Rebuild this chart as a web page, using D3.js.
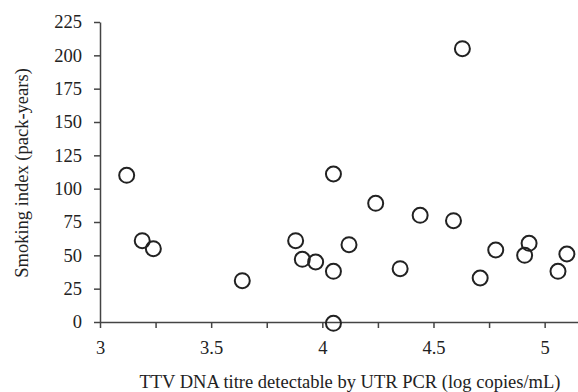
<!DOCTYPE html>
<html>
<head>
<meta charset="utf-8">
<script src="https://cdn.jsdelivr.net/npm/d3@7"></script>
<style>
  html, body { margin: 0; padding: 0; background: #fff; }
  svg text { font-family: "Liberation Serif", "DejaVu Serif", serif; fill: #222; }
</style>
</head>
<body>
<div id="chart"></div>
<script>
// TTV DNA titre (log copies/mL) vs smoking index (pack-years)
const titre = [3.12, 3.19, 3.24, 3.64, 3.88, 3.91, 3.97, 4.05, 4.05, 4.12, 4.24,
               4.35, 4.44, 4.59, 4.71, 4.78, 4.93, 4.91, 5.06, 5.10, 4.05, 4.63];
const smokingIndex = [110, 61, 55, 31, 61, 47, 45, 38, -1, 58, 89,
                      40, 80, 76, 33, 54, 59, 50, 38, 51, 111, 205];
const xTicks = [3, 3.25, 3.5, 3.75, 4, 4.25, 4.5, 4.75, 5];
const yTicks = [0, 25, 50, 75, 100, 125, 150, 175, 200, 225];

const W = 578, H = 392;
const margin = {left: 100, top: 22, bottom: 322};
const fontSize = "18.5px";

const svg = d3.select("#chart").append("svg")
  .attr("width", W)
  .attr("height", H);

const x = d3.scaleLinear().domain([3, 5.15]).range([margin.left, W]);
const y = d3.scaleLinear().domain([0, 225]).range([margin.bottom, margin.top]);

// x axis
const gx = svg.append("g")
  .attr("transform", "translate(0," + margin.bottom + ")")
  .call(d3.axisBottom(x)
    .tickValues(xTicks)
    .tickSize(6)
    .tickSizeOuter(0)
    .tickPadding(13)
    .tickFormat(d => (d * 2) % 1 === 0 ? String(d) : ""));
gx.select(".domain").attr("stroke", "#444").attr("stroke-width", 1.5);
gx.selectAll(".tick line").attr("stroke", "#444").attr("stroke-width", 1.5);
gx.selectAll("text").style("font-size", fontSize);

// y axis
const gy = svg.append("g")
  .attr("transform", "translate(" + margin.left + ",0)")
  .call(d3.axisLeft(y)
    .tickValues(yTicks)
    .tickSize(6)
    .tickSizeOuter(0)
    .tickPadding(12));
gy.select(".domain").attr("stroke", "#444").attr("stroke-width", 1.5);
gy.selectAll(".tick line").attr("stroke", "#444").attr("stroke-width", 1.5);
gy.selectAll("text").style("font-size", fontSize);

// axis titles
svg.append("text")
  .attr("x", 350)
  .attr("y", 388)
  .attr("text-anchor", "middle")
  .style("font-size", fontSize)
  .text("TTV DNA titre detectable by UTR PCR (log copies/mL)");

svg.append("text")
  .attr("transform", "translate(28,173) rotate(-90)")
  .attr("text-anchor", "middle")
  .style("font-size", fontSize)
  .text("Smoking index (pack-years)");

// points
svg.append("g")
  .selectAll("circle")
  .data(titre.map((t, i) => [t, smokingIndex[i]]))
  .join("circle")
  .attr("cx", d => x(d[0]))
  .attr("cy", d => y(d[1]))
  .attr("r", 7.5)
  .attr("fill", "none")
  .attr("stroke", "#222")
  .attr("stroke-width", 2);
</script>
</body>
</html>
